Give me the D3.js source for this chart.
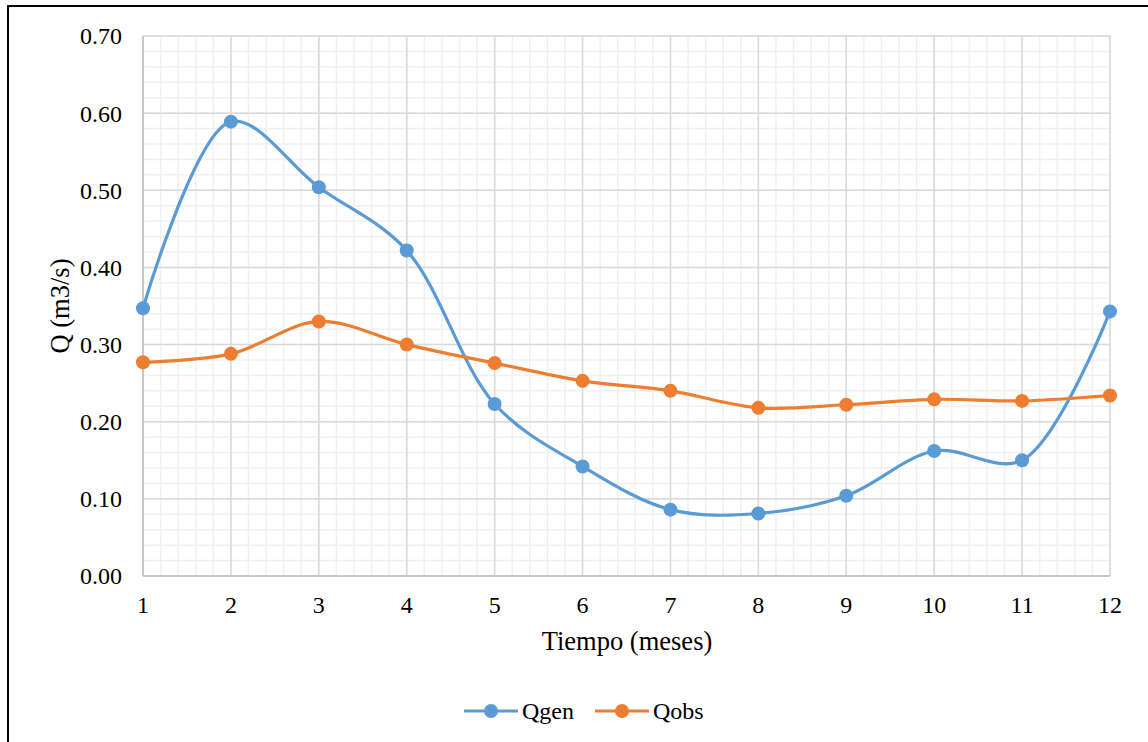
<!DOCTYPE html>
<html>
<head>
<meta charset="utf-8">
<script src="https://cdn.jsdelivr.net/npm/d3@7"></script>
<style>
  body { margin: 0; background: #fff; }
  text { font-family: "Liberation Serif", "Times New Roman", serif; fill: #000; }
</style>
</head>
<body>
<svg id="chart" width="1148" height="742"></svg>
<script>
// data
const months = [1, 2, 3, 4, 5, 6, 7, 8, 9, 10, 11, 12]
const qgen = [0.347, 0.589, 0.504, 0.422, 0.223, 0.142, 0.086, 0.081, 0.104, 0.162, 0.150, 0.343]
const qobs = [0.277, 0.288, 0.330, 0.300, 0.276, 0.253, 0.240, 0.218, 0.222, 0.229, 0.227, 0.234]
const yTicks = [0, 0.1, 0.2, 0.3, 0.4, 0.5, 0.6, 0.7]
const series = [
    {name: 'Qgen', values: qgen, color: '#5b9bd5'},
    {name: 'Qobs', values: qobs, color: '#ed7d31'}
]

const svg = d3.select('#chart')

// outer frame
svg.append('rect')
    .attr('x', 8).attr('y', 6)
    .attr('width', 1300).attr('height', 900)
    .attr('fill', 'none')
    .attr('stroke', '#000')
    .attr('stroke-width', 2)

const plotL = 143, plotR = 1110, plotT = 36, plotB = 576

const x = d3.scaleLinear().domain([1, 12]).range([plotL, plotR])
const y = d3.scaleLinear().domain([0, 0.7]).range([plotB, plotT])

const grid = svg.append('g')

// minor grid
const minorX = d3.range(1, 12.0001, 0.2)
const minorY = d3.range(0, 0.70001, 0.02)
grid.selectAll('.mx').data(minorX).enter().append('line')
    .attr('x1', d => x(d)).attr('x2', d => x(d))
    .attr('y1', plotT).attr('y2', plotB)
    .attr('stroke', '#f0f0f0').attr('stroke-width', 1.5)
grid.selectAll('.my').data(minorY).enter().append('line')
    .attr('x1', plotL).attr('x2', plotR)
    .attr('y1', d => y(d)).attr('y2', d => y(d))
    .attr('stroke', '#f0f0f0').attr('stroke-width', 1.5)

// major grid
grid.selectAll('.Mx').data(months).enter().append('line')
    .attr('x1', d => x(d)).attr('x2', d => x(d))
    .attr('y1', plotT).attr('y2', plotB)
    .attr('stroke', '#d9d9d9').attr('stroke-width', 1.5)
grid.selectAll('.My').data(yTicks).enter().append('line')
    .attr('x1', plotL).attr('x2', plotR)
    .attr('y1', d => y(d)).attr('y2', d => y(d))
    .attr('stroke', '#d9d9d9').attr('stroke-width', 1.5)

// axes lines
svg.append('line')
    .attr('x1', plotL).attr('x2', plotR).attr('y1', plotB).attr('y2', plotB)
    .attr('stroke', '#bfbfbf').attr('stroke-width', 1.5)
svg.append('line')
    .attr('x1', plotL).attr('x2', plotL).attr('y1', plotT).attr('y2', plotB)
    .attr('stroke', '#bfbfbf').attr('stroke-width', 1.5)

// tick labels
svg.selectAll('.ylab').data(yTicks).enter().append('text')
    .attr('x', 122)
    .attr('y', d => y(d))
    .attr('dy', '0.35em')
    .attr('text-anchor', 'end')
    .attr('font-size', 24)
    .text(d => d.toFixed(2))

svg.selectAll('.xlab').data(months).enter().append('text')
    .attr('x', d => x(d))
    .attr('y', 605)
    .attr('dy', '0.35em')
    .attr('text-anchor', 'middle')
    .attr('font-size', 24)
    .text(d => d)

// axis titles
svg.append('text')
    .attr('x', 627)
    .attr('y', 641)
    .attr('dy', '0.35em')
    .attr('text-anchor', 'middle')
    .attr('font-size', 26.5)
    .text('Tiempo (meses)')

svg.append('text')
    .attr('transform', 'translate(60,' + (plotT + plotB) / 2 + ') rotate(-90)')
    .attr('dy', '0.35em')
    .attr('text-anchor', 'middle')
    .attr('font-size', 26.5)
    .text('Q (m3/s)')

// smoothed lines like excel
const line = d3.line()
    .x((d, i) => x(months[i]))
    .y(d => y(d))
    .curve(d3.curveCatmullRom.alpha(0.5))

series.forEach(function(s){
    svg.append('path')
        .datum(s.values)
        .attr('d', line)
        .attr('fill', 'none')
        .attr('stroke', s.color)
        .attr('stroke-width', 3.2)
        .attr('stroke-linecap', 'round')

    svg.selectAll('.pt-' + s.name).data(s.values).enter().append('circle')
        .attr('cx', (d, i) => x(months[i]))
        .attr('cy', d => y(d))
        .attr('r', 7)
        .attr('fill', s.color)
})

// legend
const legend = svg.append('g').attr('transform', 'translate(464,711)')
const legendX = [0, 131]
series.forEach(function(s, i){
    let g = legend.append('g').attr('transform', 'translate(' + legendX[i] + ',0)')
    g.append('line')
        .attr('x1', 0).attr('x2', 54).attr('y1', 0).attr('y2', 0)
        .attr('stroke', s.color).attr('stroke-width', 3.2)
    g.append('circle')
        .attr('cx', 27).attr('cy', 0).attr('r', 7)
        .attr('fill', s.color)
    g.append('text')
        .attr('x', 58).attr('y', 0)
        .attr('dy', '0.35em')
        .attr('font-size', 24)
        .text(s.name)
})
</script>
</body>
</html>
